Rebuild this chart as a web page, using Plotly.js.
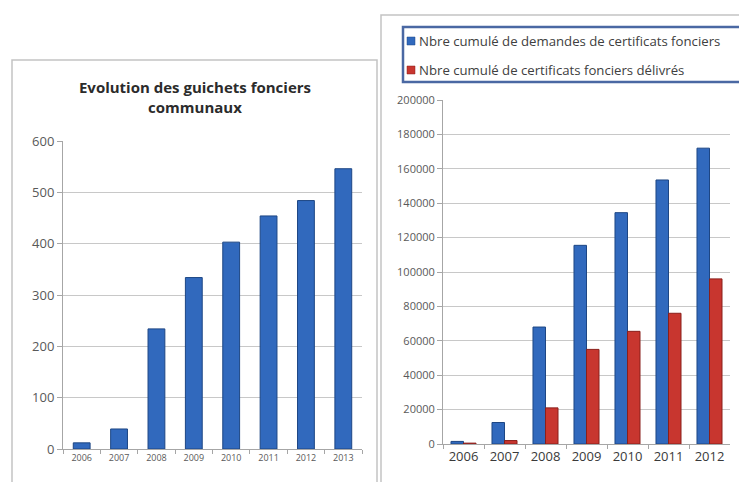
<!DOCTYPE html>
<html><head><meta charset="utf-8">
<script src="https://cdn.plot.ly/plotly-3.0.1.min.js"></script>
<style>html,body{margin:0;padding:0;background:#fff}#chart{width:739px;height:482px}</style>
</head><body><div id="chart"></div>
<script>
// ---- data ----
const guichetYears = ['2006','2007','2008','2009','2010','2011','2012','2013'];
const guichetCounts = [12, 39, 234, 334, 403, 454, 484, 546];
const leftTickVals = [0, 100, 200, 300, 400, 500, 600];

const certYears = ['2006','2007','2008','2009','2010','2011','2012'];
const demandes = [1500, 12500, 68000, 115500, 134500, 153500, 172000];
const delivres = [500, 2000, 21000, 55000, 65500, 76000, 96000];
const rightTickVals = [0, 20000, 40000, 60000, 80000, 100000, 120000, 140000, 160000, 180000, 200000];

const seriesNames = ['Nbre cumulé de demandes de certificats fonciers', 'Nbre cumulé de certificats fonciers délivrés'];
const leftTitle = 'Evolution des guichets fonciers<br>communaux';

// ---- styling ----
const W = 739, H = 482;
const px = v => v / W, py = v => 1 - v / H;
const FONT = 'Open Sans, Noto Sans, sans-serif';
const BLUE = '#3169bd', BLUE_EDGE = '#1d4684';
const RED = '#c8362f', RED_EDGE = '#8a1f1a';
const GRID = '#c8c8c8', AXIS = '#a6a6a6';

const traces = [
  { type: 'bar', x: guichetYears, y: guichetCounts, xaxis: 'x', yaxis: 'y', width: 0.45,
    marker: { color: BLUE, line: { color: BLUE_EDGE, width: 1 } }, showlegend: false },
  { type: 'bar', name: seriesNames[0], x: certYears, y: demandes, xaxis: 'x2', yaxis: 'y2',
    marker: { color: BLUE, line: { color: BLUE_EDGE, width: 1 } } },
  { type: 'bar', name: seriesNames[1], x: certYears, y: delivres, xaxis: 'x2', yaxis: 'y2',
    marker: { color: RED, line: { color: RED_EDGE, width: 1 } } }
];

const layout = {
  width: W, height: H,
  margin: { l: 0, r: 0, t: 0, b: 0 },
  paper_bgcolor: '#fff', plot_bgcolor: 'rgba(0,0,0,0)',
  font: { family: FONT, color: '#595959' },
  showlegend: false,
  barmode: 'group', bargap: 0.39, bargroupgap: 0,
  title: { text: leftTitle, x: px(195), xanchor: 'center', xref: 'paper',
           y: py(93), yanchor: 'middle', yref: 'container',
           font: { family: FONT, size: 15, color: '#2b2b2b', weight: 'bold' } },
  xaxis: { domain: [px(63), px(362)], anchor: 'y', type: 'category',
           showline: true, linecolor: AXIS, linewidth: 1,
           ticks: 'outside', tickson: 'boundaries', ticklen: 4, tickcolor: AXIS,
           showgrid: false, tickfont: { size: 9, color: '#595959' } },
  yaxis: { domain: [py(449), py(141)], anchor: 'x', range: [0, 600], tickvals: leftTickVals,
           showline: true, linecolor: AXIS, linewidth: 1, ticks: 'outside', ticklen: 5, tickcolor: AXIS,
           gridcolor: GRID, zeroline: false, tickfont: { size: 13, color: '#595959' } },
  xaxis2: { domain: [px(443), px(730)], anchor: 'y2', type: 'category',
            showline: true, linecolor: AXIS, linewidth: 1,
            ticks: 'outside', tickson: 'boundaries', ticklen: 4, tickcolor: AXIS,
            showgrid: false, tickfont: { size: 13, color: '#3a3a3a' } },
  yaxis2: { domain: [py(444), py(100)], anchor: 'x2', range: [0, 200000], tickvals: rightTickVals,
            tickformat: 'd', showline: true, linecolor: AXIS, linewidth: 1, ticks: 'outside', ticklen: 5,
            tickcolor: AXIS, gridcolor: GRID, zeroline: false, tickfont: { size: 11, color: '#595959' } },
  shapes: [
    { type: 'rect', xref: 'paper', yref: 'paper', x0: px(12), x1: px(377), y0: -0.05, y1: py(60),
      line: { color: '#c3c3c3', width: 1.5 }, layer: 'below' },
    { type: 'rect', xref: 'paper', yref: 'paper', x0: px(381), x1: 1.05, y0: -0.05, y1: py(15),
      line: { color: '#c3c3c3', width: 1.5 }, layer: 'below' },
    { type: 'rect', xref: 'paper', yref: 'paper', x0: px(403), x1: 1.05, y0: py(82), y1: py(27),
      line: { color: '#4a68a3', width: 2.5 }, fillcolor: '#fff' },
    { type: 'rect', xref: 'paper', yref: 'paper', x0: px(407), x1: px(415), y0: py(45), y1: py(37),
      line: { color: BLUE_EDGE, width: 0.5 }, fillcolor: BLUE },
    { type: 'rect', xref: 'paper', yref: 'paper', x0: px(407), x1: px(415), y0: py(74), y1: py(66),
      line: { color: RED_EDGE, width: 0.5 }, fillcolor: RED }
  ],
  annotations: [
    { text: seriesNames[0], xref: 'paper', yref: 'paper', x: px(417), y: py(41), xanchor: 'left', yanchor: 'middle',
      showarrow: false, font: { family: FONT, size: 13.2, color: '#404040' } },
    { text: seriesNames[1], xref: 'paper', yref: 'paper', x: px(417), y: py(70), xanchor: 'left', yanchor: 'middle',
      showarrow: false, font: { family: FONT, size: 13.2, color: '#404040' } }
  ]
};

Plotly.newPlot('chart', traces, layout, { staticPlot: true, displayModeBar: false });
</script>
</body></html>
